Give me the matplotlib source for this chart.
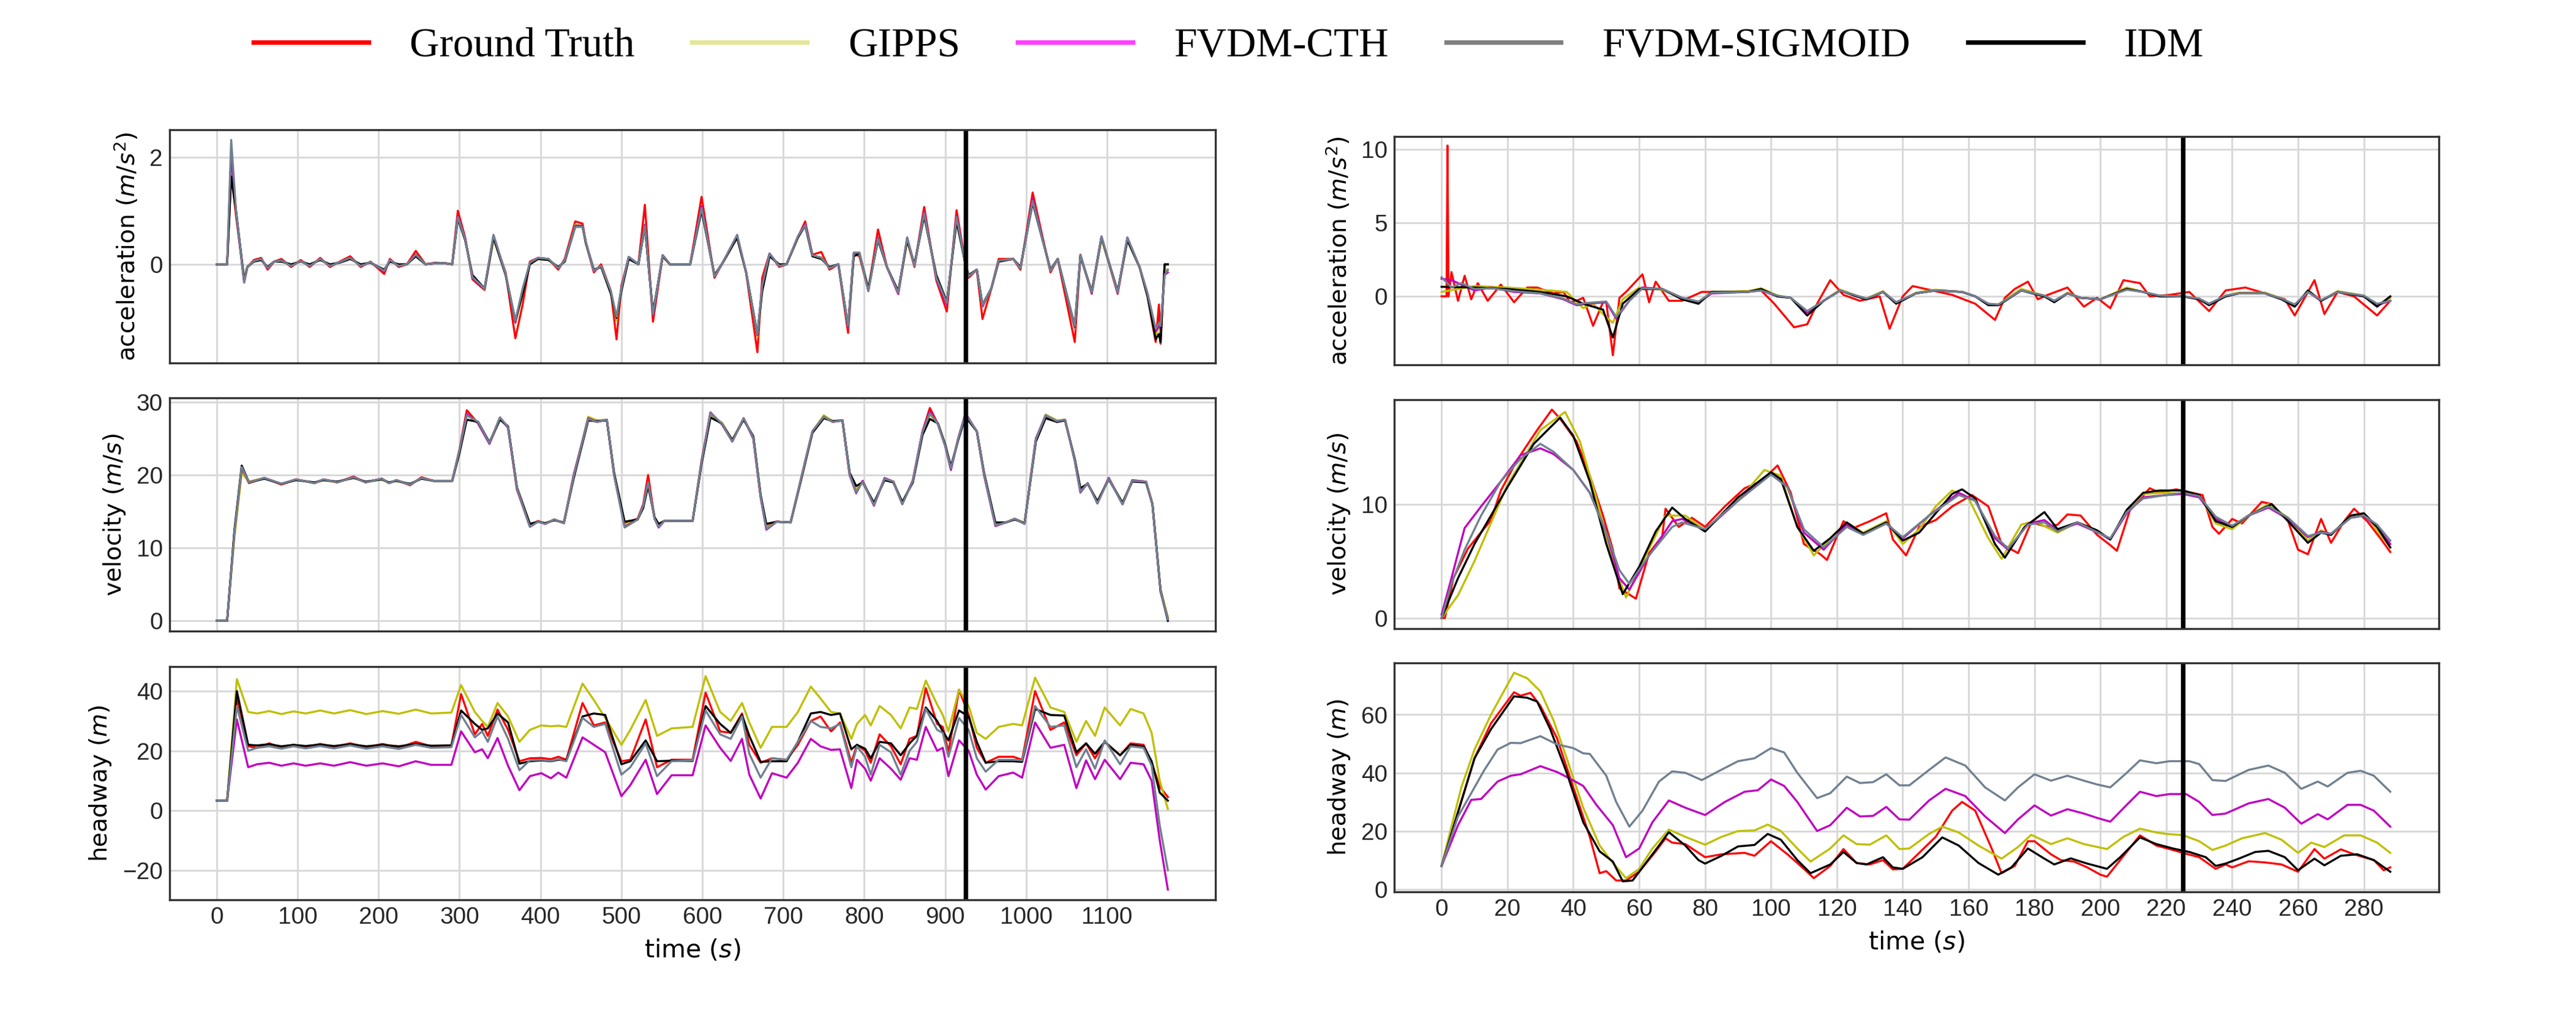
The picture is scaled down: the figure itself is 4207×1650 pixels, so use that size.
import numpy as np
import matplotlib
matplotlib.use('Agg')
import matplotlib.pyplot as plt
from matplotlib.lines import Line2D

plt.rcParams['font.family'] = 'DejaVu Sans'
plt.rcParams['mathtext.fontset'] = 'dejavusans'

labels = ['Ground Truth', 'GIPPS', 'FVDM-CTH', 'FVDM-SIGMOID', 'IDM']

# ---------------- left column (long trajectory) ----------------
t_acc_L = [0, 13, 18, 24, 34, 38, 46, 55, 63, 71,
           80, 92, 104, 115, 128, 140, 152, 165, 178, 190,
           207, 214, 225, 235, 246, 258, 270, 282, 291, 298,
           307, 316, 331, 342, 357, 369, 378, 387, 397, 410,
           422, 430, 443, 452, 456, 466, 475, 487, 494, 500,
           509, 521, 529, 539, 551, 560, 585, 599, 615, 624,
           643, 654, 668, 674, 683, 695, 704, 718, 727, 736,
           747, 757, 768, 780, 787, 794, 805, 817, 828, 842,
           853, 862, 874, 889, 902, 914, 925, 929, 939, 946,
           957, 966, 984, 993, 1008, 1030, 1039, 1060, 1067, 1081,
           1093, 1113, 1125, 1140, 1150, 1160, 1164, 1166, 1171, 1175]
acc_L_gt = [0.0, 0.0, 1.70, 0.90, -0.27, -0.05, 0.08, 0.12, -0.10, 0.05,
            0.10, -0.05, 0.08, -0.05, 0.12, -0.05, 0.05, 0.15, -0.05, 0.05,
            -0.18, 0.10, -0.05, 0.00, 0.25, 0.00, 0.03, 0.02, 0.00, 1.00,
            0.50, -0.28, -0.48, 0.50, -0.15, -1.38, -0.75, 0.05, 0.12, 0.10,
            -0.10, 0.10, 0.80, 0.76, 0.40, -0.15, 0.00, -0.50, -1.40, -0.40,
            0.13, 0.00, 1.11, -1.07, 0.17, 0.00, 0.00, 1.26, -0.25, 0.00,
            0.50, -0.15, -1.64, -0.25, 0.20, -0.05, 0.00, 0.50, 0.80, 0.18,
            0.23, -0.10, 0.00, -1.28, 0.20, 0.15, -0.48, 0.65, -0.05, -0.55,
            0.45, -0.05, 1.07, -0.30, -0.88, 1.01, 0.00, -0.25, -0.10, -1.02,
            -0.45, 0.10, 0.10, -0.10, 1.34, -0.15, 0.10, -1.45, 0.18, -0.55,
            0.50, -0.55, 0.48, -0.05, -0.60, -1.45, -0.75, -1.48, 0.00, 0.00]
acc_L_idm = [0.0, 0.0, 1.64, 1.00, -0.30, -0.05, 0.05, 0.08, -0.05, 0.05,
             0.05, 0.00, 0.05, 0.00, 0.08, 0.00, 0.03, 0.10, 0.00, 0.03,
             -0.10, 0.05, 0.00, 0.00, 0.15, 0.00, 0.02, 0.02, 0.00, 0.85,
             0.45, -0.20, -0.45, 0.50, -0.20, -1.05, -0.55, 0.00, 0.10, 0.08,
             -0.05, 0.05, 0.70, 0.70, 0.40, -0.10, -0.05, -0.55, -1.00, -0.50,
             0.10, 0.00, 0.70, -0.90, 0.15, 0.00, 0.00, 1.00, -0.20, 0.00,
             0.50, -0.15, -1.30, -0.50, 0.15, 0.00, 0.00, 0.50, 0.72, 0.15,
             0.10, -0.05, 0.00, -1.15, 0.15, 0.20, -0.45, 0.45, -0.05, -0.50,
             0.45, 0.00, 0.90, -0.20, -0.70, 0.80, 0.00, -0.20, -0.10, -0.75,
             -0.45, 0.05, 0.10, -0.05, 1.15, -0.10, 0.10, -1.15, 0.15, -0.50,
             0.50, -0.50, 0.45, -0.05, -0.60, -1.40, -1.30, -1.45, 0.00, 0.00]
acc_L_gipps = [0.0, 0.0, 1.83, 0.95, -0.28, -0.04, 0.06, 0.09, -0.06, 0.05,
               0.06, -0.02, 0.06, -0.02, 0.09, -0.02, 0.04, 0.11, -0.02, 0.04,
               -0.12, 0.07, -0.02, 0.00, 0.17, 0.00, 0.02, 0.02, 0.00, 0.88,
               0.46, -0.22, -0.47, 0.48, -0.17, -1.10, -0.55, 0.02, 0.10, 0.08,
               -0.06, 0.06, 0.74, 0.72, 0.40, -0.12, -0.03, -0.52, -1.05, -0.48,
               0.11, 0.00, 0.74, -0.92, 0.15, 0.00, 0.00, 1.05, -0.22, 0.00,
               0.50, -0.15, -1.35, -0.45, 0.17, -0.02, 0.00, 0.50, 0.75, 0.16,
               0.13, -0.07, 0.00, -1.18, 0.17, 0.18, -0.46, 0.50, -0.05, -0.52,
               0.45, -0.02, 0.93, -0.24, -0.74, 0.85, 0.00, -0.22, -0.10, -0.80,
               -0.45, 0.07, 0.10, -0.07, 1.20, -0.12, 0.10, -1.20, 0.16, -0.52,
               0.48, -0.52, 0.46, -0.05, -0.58, -1.35, -1.10, -1.30, -0.10, -0.10]
acc_L_cth = [0.0, 0.0, 2.08, 0.95, -0.34, -0.05, 0.06, 0.10, -0.07, 0.05,
             0.07, -0.03, 0.06, -0.03, 0.10, -0.03, 0.04, 0.12, -0.03, 0.04,
             -0.13, 0.08, -0.03, 0.00, 0.18, 0.00, 0.02, 0.02, 0.00, 0.90,
             0.48, -0.25, -0.46, 0.54, -0.18, -1.08, -0.50, 0.03, 0.12, 0.10,
             -0.07, 0.07, 0.72, 0.72, 0.42, -0.13, -0.03, -0.52, -1.00, -0.45,
             0.14, 0.00, 0.74, -0.95, 0.17, 0.00, 0.00, 1.08, -0.22, 0.00,
             0.54, -0.15, -1.32, -0.40, 0.20, -0.03, 0.00, 0.52, 0.75, 0.17,
             0.12, -0.07, 0.00, -1.18, 0.20, 0.22, -0.50, 0.50, -0.05, -0.55,
             0.50, -0.03, 0.98, -0.27, -0.75, 0.90, 0.00, -0.22, -0.10, -0.78,
             -0.45, 0.07, 0.10, -0.07, 1.22, -0.12, 0.10, -1.18, 0.17, -0.53,
             0.52, -0.53, 0.50, -0.05, -0.55, -1.25, -1.15, -1.20, -0.20, -0.15]
acc_L_sig = [0.0, 0.0, 2.32, 1.00, -0.34, -0.05, 0.06, 0.10, -0.07, 0.05,
             0.07, -0.03, 0.06, -0.03, 0.10, -0.03, 0.04, 0.12, -0.03, 0.04,
             -0.12, 0.08, -0.03, 0.00, 0.18, 0.00, 0.02, 0.02, 0.00, 0.88,
             0.47, -0.24, -0.45, 0.55, -0.18, -1.05, -0.45, 0.03, 0.12, 0.10,
             -0.07, 0.07, 0.70, 0.70, 0.42, -0.12, -0.03, -0.50, -0.98, -0.45,
             0.14, 0.00, 0.72, -0.93, 0.17, 0.00, 0.00, 1.05, -0.22, 0.00,
             0.55, -0.15, -1.30, -0.40, 0.20, -0.03, 0.00, 0.52, 0.73, 0.17,
             0.12, -0.07, 0.00, -1.15, 0.22, 0.22, -0.50, 0.48, -0.05, -0.53,
             0.50, -0.03, 0.95, -0.25, -0.72, 0.88, 0.00, -0.22, -0.10, -0.76,
             -0.45, 0.07, 0.10, -0.07, 1.18, -0.12, 0.10, -1.15, 0.17, -0.52,
             0.52, -0.52, 0.50, -0.05, -0.55, -1.20, -1.10, -1.15, -0.20, -0.10]

t_vel_L = [0, 13, 22, 31, 40, 59, 80, 98, 121, 132,
           149, 169, 184, 204, 213, 222, 239, 253, 268, 291,
           300, 309, 323, 337, 350, 360, 371, 387, 397, 406,
           417, 429, 441, 459, 470, 482, 491, 504, 520, 527,
           533, 541, 546, 553, 588, 599, 610, 624, 637, 651,
           663, 672, 679, 692, 709, 723, 736, 750, 761, 773,
           782, 790, 798, 812, 825, 836, 847, 860, 872, 881,
           891, 900, 907, 916, 925, 939, 948, 962, 975, 986,
           998, 1012, 1024, 1038, 1048, 1060, 1067, 1076, 1088, 1102,
           1119, 1131, 1148, 1156, 1166, 1175]
vel_L_gt = [0.0, 0.0, 12.0, 20.8, 18.9, 19.6, 18.7, 19.4, 18.9, 19.4,
            19.0, 19.8, 19.0, 19.5, 18.9, 19.3, 18.6, 19.7, 19.2, 19.2,
            23.5, 28.9, 27.1, 24.3, 27.9, 26.5, 18.0, 13.0, 13.7, 13.3,
            13.9, 13.4, 20.0, 27.6, 27.3, 27.6, 20.0, 13.4, 14.0, 16.0,
            20.0, 14.0, 13.0, 13.7, 13.7, 22.0, 28.5, 27.0, 24.7, 27.8,
            25.0, 17.0, 12.9, 13.6, 13.5, 20.0, 26.0, 28.0, 27.3, 27.5,
            20.0, 17.8, 19.2, 15.9, 19.5, 19.1, 16.1, 19.2, 26.0, 29.2,
            27.0, 24.0, 20.8, 25.0, 28.3, 26.0, 20.0, 13.3, 13.5, 14.0,
            13.4, 25.0, 28.0, 27.3, 27.6, 22.0, 17.8, 18.9, 16.2, 19.6,
            16.0, 19.2, 19.1, 16.0, 4.0, 0.2]
vel_L_idm = [0.0, 0.0, 12.5, 21.3, 19.0, 19.5, 18.8, 19.3, 19.0, 19.3,
             19.1, 19.6, 19.1, 19.4, 19.0, 19.2, 18.8, 19.5, 19.2, 19.2,
             23.0, 27.6, 27.3, 24.5, 27.6, 26.7, 18.3, 13.3, 13.6, 13.4,
             13.8, 13.5, 19.5, 27.5, 27.4, 27.5, 20.3, 13.6, 13.9, 15.5,
             18.5, 14.2, 13.3, 13.7, 13.7, 21.5, 27.9, 27.1, 24.8, 27.6,
             25.3, 17.3, 13.3, 13.6, 13.5, 19.8, 25.8, 27.8, 27.4, 27.5,
             20.3, 18.5, 19.0, 16.2, 19.3, 19.0, 16.3, 19.0, 25.5, 27.7,
             27.1, 24.2, 21.2, 24.8, 28.0, 26.0, 20.3, 13.5, 13.5, 13.9,
             13.4, 24.6, 27.8, 27.3, 27.5, 22.2, 18.2, 18.8, 16.4, 19.4,
             16.2, 19.1, 19.0, 16.0, 4.2, 0.0]
vel_L_gipps = [0.0, 0.0, 11.5, 20.3, 19.1, 19.6, 18.8, 19.4, 18.9, 19.3,
               19.0, 19.7, 19.0, 19.4, 18.9, 19.2, 18.7, 19.6, 19.2, 19.2,
               23.3, 28.2, 27.3, 24.4, 27.8, 26.6, 18.2, 13.2, 13.6, 13.4,
               13.9, 13.4, 19.8, 28.0, 27.5, 27.6, 20.1, 13.2, 13.9, 15.7,
               18.8, 14.1, 13.2, 13.7, 13.7, 21.8, 28.2, 27.2, 24.8, 27.7,
               25.2, 17.2, 12.8, 13.6, 13.5, 19.9, 26.0, 28.2, 27.4, 27.5,
               20.2, 18.0, 19.0, 16.0, 19.4, 19.0, 16.2, 19.1, 25.8, 28.3,
               27.1, 24.1, 21.0, 24.9, 28.2, 26.0, 20.2, 13.4, 13.5, 14.0,
               13.4, 24.8, 28.3, 27.5, 27.6, 22.1, 18.0, 18.8, 16.3, 19.5,
               16.1, 19.2, 19.1, 16.0, 4.3, 0.5]
vel_L_cth = [0.0, 0.0, 12.2, 21.0, 19.0, 19.6, 18.8, 19.4, 18.9, 19.4,
             19.0, 19.7, 19.0, 19.5, 18.9, 19.3, 18.7, 19.6, 19.2, 19.2,
             23.3, 28.4, 27.1, 24.3, 27.8, 26.5, 18.1, 12.9, 13.6, 13.3,
             13.9, 13.4, 19.9, 27.8, 27.3, 27.6, 20.0, 12.9, 13.9, 15.8,
             19.0, 14.0, 12.8, 13.7, 13.7, 21.8, 28.6, 27.0, 24.6, 27.8,
             25.0, 17.0, 12.5, 13.6, 13.5, 20.0, 26.0, 28.0, 27.3, 27.5,
             20.0, 17.5, 19.2, 15.8, 19.6, 19.1, 16.0, 19.3, 26.0, 28.7,
             27.0, 24.0, 20.7, 25.0, 28.5, 26.0, 20.0, 13.0, 13.5, 14.0,
             13.3, 25.0, 28.2, 27.3, 27.6, 22.0, 17.6, 18.9, 16.1, 19.6,
             16.0, 19.3, 19.1, 16.0, 4.0, 0.3]
vel_L_sig = [0.0, 0.0, 12.2, 21.1, 19.0, 19.6, 18.8, 19.4, 18.9, 19.4,
             19.0, 19.7, 19.0, 19.5, 18.9, 19.3, 18.7, 19.6, 19.2, 19.2,
             23.4, 28.2, 27.3, 24.4, 27.9, 26.6, 18.2, 12.9, 13.6, 13.3,
             13.9, 13.4, 19.8, 27.7, 27.3, 27.6, 20.0, 12.8, 13.9, 15.8,
             19.0, 14.0, 12.9, 13.7, 13.7, 21.8, 28.5, 27.1, 24.6, 27.8,
             25.1, 17.1, 12.6, 13.6, 13.5, 20.0, 26.0, 28.0, 27.3, 27.5,
             20.1, 17.6, 19.1, 15.9, 19.5, 19.1, 16.0, 19.2, 25.9, 28.5,
             27.0, 24.0, 20.9, 25.0, 28.4, 26.0, 20.1, 13.1, 13.5, 14.0,
             13.3, 24.9, 28.2, 27.4, 27.6, 22.0, 17.7, 18.9, 16.1, 19.5,
             16.0, 19.2, 19.1, 16.0, 4.1, 0.2]

t_hw_L = [0, 13, 25, 39, 50, 65, 80, 95, 110, 128,
          145, 165, 185, 205, 225, 246, 265, 290, 302, 319,
          328, 335, 347, 360, 374, 387, 401, 413, 422, 432,
          452, 466, 480, 500, 511, 530, 544, 562, 588, 604,
          622, 635, 649, 658, 672, 686, 704, 718, 734, 746,
          759, 770, 784, 791, 801, 808, 819, 833, 845, 856,
          865, 876, 890, 897, 904, 917, 929, 939, 950, 966,
          984, 995, 1011, 1030, 1047, 1062, 1074, 1085, 1097, 1116,
          1129, 1145, 1155, 1165, 1175]
hw_L_gt = [3.3, 3.3, 37.7, 21.5, 21.0, 22.5, 21.0, 22.0, 21.2, 22.3,
           21.3, 22.5, 21.2, 22.3, 21.0, 23.0, 21.5, 21.8, 39.0, 25.5,
           29.0, 25.0, 33.8, 27.0, 16.5, 17.5, 17.6, 17.2, 18.0, 17.0,
           36.0, 28.5, 29.5, 16.5, 17.0, 30.5, 14.5, 17.0, 17.0, 39.5,
           26.5, 26.0, 32.5, 22.0, 16.0, 17.5, 17.0, 22.0, 30.0, 31.5,
           26.5, 29.5, 16.0, 22.0, 20.0, 16.0, 25.5, 21.5, 15.5, 24.0,
           25.0, 41.0, 29.0, 28.0, 19.5, 40.5, 32.0, 21.0, 16.0, 18.0,
           18.0, 17.0, 40.0, 27.0, 29.5, 18.5, 22.5, 17.5, 23.0, 18.5,
           22.5, 22.0, 16.0, 8.0, 4.5]
hw_L_idm = [3.3, 3.3, 40.0, 22.0, 21.8, 22.2, 21.5, 22.0, 21.6, 22.1,
            21.6, 22.2, 21.5, 22.0, 21.5, 22.3, 21.7, 21.8, 33.5, 29.0,
            27.0, 27.5, 32.5, 29.5, 15.7, 16.5, 16.8, 16.5, 17.0, 16.8,
            31.5, 32.5, 32.0, 15.5, 16.5, 23.5, 16.5, 16.7, 16.6, 35.0,
            29.0, 26.0, 32.0, 25.0, 16.3, 16.5, 16.5, 23.0, 32.5, 33.0,
            32.0, 32.5, 20.5, 22.0, 20.7, 17.5, 23.0, 22.5, 18.5, 22.5,
            25.0, 34.5, 30.0, 26.5, 23.5, 33.5, 31.5, 23.0, 16.0, 16.5,
            16.5, 16.3, 34.0, 32.0, 31.8, 19.5, 22.5, 19.0, 23.0, 18.5,
            22.0, 21.5, 16.5, 6.0, 3.3]
hw_L_gipps = [3.3, 3.3, 44.0, 33.0, 32.5, 33.3, 32.3, 33.2, 32.5, 33.5,
              32.5, 33.6, 32.3, 33.3, 32.4, 33.8, 32.5, 32.8, 42.0, 33.0,
              30.0, 28.0, 36.0, 31.5, 23.0, 27.0, 28.5, 28.2, 28.4, 28.0,
              42.5, 37.0, 31.0, 22.0, 27.0, 37.0, 25.0, 27.5, 28.0, 45.0,
              33.0, 30.0, 36.0, 29.5, 21.0, 28.0, 28.0, 33.0, 41.5, 37.5,
              33.0, 32.5, 24.0, 29.0, 32.0, 28.5, 35.0, 32.0, 27.5, 34.5,
              34.0, 43.5, 35.5, 32.0, 26.5, 40.5, 35.0, 26.0, 24.0, 28.0,
              29.0, 28.5, 44.5, 34.5, 33.0, 23.0, 30.0, 25.0, 34.5, 28.5,
              34.0, 32.5, 26.0, 10.0, 0.5]
hw_L_cth = [3.3, 3.3, 30.5, 14.5, 15.5, 16.0, 15.0, 15.8, 15.0, 15.8,
            15.0, 16.2, 15.0, 15.8, 14.8, 16.5, 15.3, 15.3, 26.5, 19.5,
            20.5, 17.5, 24.3, 15.0, 6.8, 11.5, 12.5, 10.8, 12.7, 11.0,
            24.5, 22.0, 19.5, 4.8, 8.5, 17.0, 5.5, 11.8, 11.8, 28.5,
            21.0, 16.6, 24.0, 12.0, 4.0, 12.5, 11.0, 16.0, 24.0, 21.5,
            20.3, 20.5, 7.5, 17.0, 14.0, 10.0, 17.5, 14.0, 10.3, 17.5,
            17.0, 28.0, 20.0, 21.0, 11.5, 23.5, 20.0, 12.0, 7.0, 11.5,
            12.7, 11.0, 29.5, 21.0, 22.0, 7.5, 16.8, 10.5, 17.0, 10.5,
            16.0, 15.5, 10.0, -10.0, -26.5]
hw_L_sig = [3.3, 3.3, 35.0, 20.0, 21.0, 21.5, 20.7, 21.5, 20.8, 21.6,
            20.8, 21.8, 20.7, 21.5, 20.6, 22.0, 21.0, 21.2, 32.0, 24.5,
            26.5, 23.0, 31.5, 24.0, 13.5, 16.8, 17.0, 16.6, 17.2, 16.5,
            31.0, 28.0, 29.0, 12.0, 14.5, 22.5, 11.5, 16.5, 16.8, 33.5,
            25.5, 24.0, 31.5, 19.0, 11.0, 17.5, 17.0, 23.0, 30.0, 28.0,
            27.5, 29.0, 14.5, 21.5, 18.0, 12.0, 22.0, 19.5, 12.0, 20.0,
            23.0, 34.0, 27.0, 26.0, 18.0, 31.0, 27.0, 17.5, 13.0, 17.0,
            17.0, 16.8, 35.0, 28.0, 28.5, 14.5, 20.5, 14.0, 23.5, 15.5,
            21.5, 21.0, 15.0, -5.0, -20.0]

# ---------------- right column (short trajectory) ----------------
t_acc_R_gt = [0, 1.5, 1.8, 2.1, 3, 5, 7, 9, 11, 14,
              18, 22, 26, 29, 34, 37, 39, 41, 43, 46,
              49, 50, 52, 54, 56, 61, 63, 65, 69, 73,
              79, 88, 97, 101, 107, 111, 114, 118, 122, 127,
              133, 136, 140, 143, 149, 155, 162, 168, 171, 174,
              178, 181, 184, 190, 195, 199, 203, 207, 212, 215,
              221, 227, 233, 238, 244, 250, 256, 259, 265, 268,
              272, 277, 284, 288]
acc_R_gt = [0, 0, 10.25, 0, 1.65, -0.3, 1.4, -0.2, 0.9, -0.3,
            0.8, -0.4, 0.6, 0.6, 0.2, 0.3, -0.4, -0.3, -0.1, -2.0,
            -0.4, -0.4, -4.0, -0.1, 0.3, 1.5, -0.4, 1.0, -0.3, -0.3,
            0.3, 0.3, 0.4, -0.5, -2.1, -1.9, -0.5, 1.1, 0.1, -0.3,
            0.0, -2.2, 0.0, 0.7, 0.4, 0.1, -0.5, -1.6, -0.1, 0.5,
            1.0, -0.2, 0.1, 0.6, -0.7, -0.1, -0.8, 1.1, 0.9, 0.0,
            0.1, 0.3, -1.0, 0.4, 0.6, 0.2, -0.2, -1.3, 1.1, -1.2,
            0.3, 0.0, -1.3, -0.3]
t_acc_R_a = [0, 10, 20, 30, 38, 43, 46, 49, 52, 55,
             60, 67, 73, 78, 82, 93, 97, 102, 106, 111,
             116, 121, 126, 129, 134, 138, 144, 150, 158, 162,
             166, 169, 176, 183, 186, 190, 194, 200, 208, 213,
             218, 225, 230, 233, 238, 242, 250, 255, 259, 263,
             267, 272, 280, 284, 288]
acc_R_idm = [0.65, 0.6, 0.5, 0.3, 0.0, -0.5, -0.7, -0.9, -2.8, -0.5,
             0.5, 0.5, -0.2, -0.5, 0.3, 0.3, 0.5, 0.0, -0.1, -1.3,
             -0.3, 0.4, 0.0, -0.2, 0.3, -0.5, 0.2, 0.4, 0.3, 0.0,
             -0.6, -0.6, 0.4, 0.0, -0.4, 0.2, -0.1, -0.2, 0.5, 0.3,
             0.0, 0.0, -0.2, -0.6, 0.0, 0.2, 0.2, -0.2, -0.7, 0.4,
             -0.3, 0.3, 0.0, -0.7, 0.0]
acc_R_gipps = [0.3, 0.7, 0.6, 0.45, 0.3, -0.8, -0.5, -1.2, -1.8, -0.2,
               0.6, 0.45, -0.15, -0.4, 0.3, 0.35, 0.55, 0.05, -0.1, -1.1,
               -0.3, 0.45, 0.05, -0.15, 0.35, -0.45, 0.25, 0.45, 0.3, 0.0,
               -0.55, -0.55, 0.5, 0.05, -0.35, 0.25, -0.1, -0.2, 0.6, 0.3,
               0.05, 0.0, -0.15, -0.55, 0.05, 0.25, 0.25, -0.15, -0.65, 0.4,
               -0.3, 0.35, 0.05, -0.6, -0.1]
t_acc_R_b = [0, 3, 6, 10, 15, 22, 30, 37, 41, 44,
             50, 53, 57, 61, 67, 73, 78, 82, 93, 97,
             102, 106, 111, 116, 121, 126, 129, 134, 138, 144,
             150, 158, 162, 166, 169, 176, 183, 186, 190, 194,
             200, 208, 213, 218, 225, 230, 233, 238, 242, 250,
             255, 259, 263, 267, 272, 280, 284, 288]
acc_R_cth = [1.2, 1.1, 0.8, 0.4, 0.6, 0.3, 0.2, -0.2, -0.6, -0.5,
             -0.4, -1.5, -0.3, 0.6, 0.5, -0.1, -0.4, 0.2, 0.3, 0.4,
             0.0, -0.1, -1.1, -0.3, 0.4, 0.0, -0.2, 0.3, -0.4, 0.2,
             0.4, 0.3, 0.0, -0.5, -0.6, 0.4, 0.0, -0.3, 0.2, -0.1,
             -0.2, 0.5, 0.3, 0.0, 0.0, -0.2, -0.5, 0.0, 0.2, 0.2,
             -0.2, -0.6, 0.3, -0.3, 0.3, 0.0, -0.6, -0.3]
acc_R_sig = [1.3, 0.6, 0.9, 0.5, 0.55, 0.35, 0.2, -0.15, -0.55, -0.45,
             -0.35, -1.4, -0.3, 0.55, 0.5, -0.1, -0.35, 0.25, 0.3, 0.4,
             0.05, -0.1, -1.0, -0.3, 0.4, 0.05, -0.15, 0.3, -0.4, 0.2,
             0.4, 0.3, 0.0, -0.5, -0.55, 0.4, 0.05, -0.3, 0.2, -0.1,
             -0.2, 0.45, 0.3, 0.05, 0.0, -0.15, -0.5, 0.05, 0.2, 0.2,
             -0.15, -0.55, 0.3, -0.25, 0.3, 0.05, -0.5, -0.3]

t_vel_R_gt = [0, 1, 3.6, 8, 15, 18, 23, 29, 33.5, 36,
              41, 45, 49, 52, 54, 59, 63, 67, 68, 72,
              76, 80, 86, 92, 97, 102, 106, 110, 115, 117,
              122, 125, 130, 135, 137, 141, 145, 150, 155, 161,
              166, 170, 175, 179, 184, 187, 190, 194, 199, 203,
              205, 209, 215, 218, 223, 231, 234, 236, 240, 243,
              249, 252, 257, 260, 263, 267, 270, 274, 277, 281,
              285, 288]
vel_R_gt = [0, 0, 3.5, 6.1, 8.6, 11.2, 13.9, 16.5, 18.3, 17.5,
            15.5, 12.5, 9.0, 6.0, 2.6, 1.7, 5.7, 7.2, 9.6, 8.0,
            8.8, 8.0, 9.8, 11.4, 12.0, 13.4, 11.0, 6.5, 5.6, 5.1,
            8.5, 7.9, 8.5, 9.2, 6.9, 5.5, 8.0, 8.6, 9.8, 10.8,
            9.8, 6.5, 5.7, 8.4, 8.0, 8.2, 9.1, 9.0, 7.3, 6.4,
            5.9, 9.5, 11.4, 11.0, 11.3, 10.8, 8.0, 7.4, 8.7, 8.3,
            10.2, 10.0, 8.5, 6.0, 5.6, 8.7, 6.6, 8.5, 9.6, 8.5,
            7.0, 5.8]
t_vel_R_idm = [0, 5, 10, 20, 28, 36, 40, 45, 50, 55,
               60, 65, 70, 74, 80, 90, 100, 103, 108, 113,
               118, 123, 128, 135, 140, 145, 155, 158, 162, 168,
               171, 177, 183, 187, 193, 199, 203, 208, 213, 218,
               225, 230, 235, 240, 245, 252, 257, 263, 267, 270,
               276, 280, 284, 288]
vel_R_idm = [0, 3.5, 6.5, 11.5, 15.3, 17.6, 16.0, 12.0, 6.5, 2.1,
             4.5, 7.6, 9.7, 8.7, 7.6, 10.6, 12.8, 12.2, 8.0, 5.9,
             7.0, 8.4, 7.4, 8.4, 6.8, 7.5, 10.9, 11.3, 10.5, 6.5,
             5.3, 8.0, 9.3, 7.8, 8.4, 7.7, 6.9, 9.5, 11.0, 11.2,
             11.2, 10.8, 8.5, 8.0, 9.0, 10.0, 8.5, 6.6, 7.5, 7.3,
             9.0, 9.2, 8.0, 6.2]
t_vel_R_gipps = [0, 5, 10, 20, 30, 37.5, 42, 47, 52, 56,
                 62, 68, 74, 80, 90, 98, 103, 108, 113, 120,
                 124, 128, 135, 140, 145, 150, 155, 160, 166, 170,
                 176, 180, 187, 193, 198, 203, 208, 213, 220, 230,
                 235, 240, 245, 251, 257, 263, 267, 270, 276, 280,
                 288]
vel_R_gipps = [0, 2.0, 5.0, 11.7, 16.5, 18.1, 15.5, 10.5, 5.0, 1.8,
               5.5, 9.0, 9.0, 7.7, 10.3, 13.0, 12.5, 8.0, 5.5, 7.6,
               8.2, 7.5, 8.5, 6.5, 7.8, 9.8, 11.2, 10.5, 7.0, 5.2,
               8.2, 8.5, 7.5, 8.4, 7.8, 6.9, 9.3, 10.9, 11.0, 10.8,
               8.3, 7.8, 9.0, 10.0, 8.8, 6.8, 7.7, 7.3, 9.0, 9.2,
               6.2]
t_vel_R_fv = [0, 3, 7, 12, 18, 24, 30, 34, 40, 45,
              50, 54, 57, 63, 70, 73, 80, 90, 100, 105,
              110, 116, 123, 128, 135, 140, 148, 157, 162, 168,
              172, 178, 183, 187, 193, 200, 203, 208, 213, 220,
              225, 230, 235, 240, 245, 251, 257, 263, 267, 270,
              276, 280, 284, 288]
vel_R_cth = [0.3, 3.5, 7.9, 9.8, 12.0, 14.3, 14.9, 14.4, 13.0, 11.0,
             7.5, 3.5, 2.5, 5.5, 8.5, 8.7, 7.7, 10.3, 12.8, 11.5,
             7.5, 6.0, 8.2, 7.4, 8.3, 7.0, 9.0, 11.0, 10.3, 7.0,
             6.0, 8.3, 8.6, 7.7, 8.3, 7.4, 6.9, 9.2, 10.6, 10.8,
             10.9, 10.6, 8.7, 8.0, 9.0, 9.7, 8.7, 7.1, 7.6, 7.4,
             8.8, 9.0, 8.0, 6.5]
vel_R_sig = [0, 3.0, 6.0, 9.0, 12.0, 14.0, 15.3, 14.6, 13.0, 11.0,
             7.5, 4.2, 3.0, 5.5, 8.0, 8.4, 7.8, 10.3, 12.6, 11.5,
             7.8, 6.2, 8.0, 7.3, 8.3, 7.1, 9.0, 10.8, 10.3, 7.2,
             6.1, 8.2, 8.4, 7.6, 8.4, 7.4, 7.0, 9.3, 10.5, 10.8,
             11.0, 10.7, 8.9, 8.1, 9.0, 9.8, 8.8, 7.2, 7.5, 7.4,
             8.8, 9.0, 8.2, 6.8]

t_hw_R_gt = [0, 10, 15, 22, 24, 27, 30, 35, 40, 45,
             48, 50, 53, 56, 60, 65, 68, 70, 74, 80,
             85, 92, 95, 100, 105, 110, 113, 118, 122, 126,
             130, 134, 137, 140, 150, 155, 158, 162, 167, 170,
             174, 178, 180, 185, 188, 192, 196, 200, 202, 206,
             212, 217, 222, 225, 230, 235, 238, 240, 245, 250,
             255, 260, 265, 268, 273, 277, 283, 286, 288]
hw_R_gt = [8, 45, 57, 67.7, 66.5, 67.5, 63, 52, 35, 18,
           5.5, 6.2, 3.0, 3.0, 6, 13, 17.5, 16, 15.5, 11,
           12, 12.5, 11.5, 16.5, 12, 7, 3.8, 8, 13.8, 9,
           8.5, 10, 6.8, 7, 18, 27, 30, 27, 14, 5.5,
           8, 16.5, 16.5, 12, 10, 9.5, 7.5, 5, 4.3, 10,
           18.5, 15, 13.5, 12.5, 11, 7, 8.5, 7.5, 9.6, 9.2,
           8.5, 6.0, 13.8, 10.5, 13.7, 12, 10, 6.5, 7.5]
t_hw_R_idm = [0, 10, 15, 22, 26, 29, 33, 38, 43, 48,
              52, 55, 58, 62, 66, 69, 74, 78, 80, 85,
              90, 95, 99, 103, 108, 112, 118, 122, 126, 129,
              134, 137, 140, 146, 152, 157, 163, 169, 173, 178,
              183, 186, 191, 196, 202, 206, 212, 217, 222, 227,
              232, 235, 238, 242, 247, 251, 256, 260, 265, 268,
              273, 278, 283, 288]
hw_R_idm = [8, 45, 55, 66.3, 65.8, 64.5, 55, 40, 23, 13,
            9.5, 2.7, 3.0, 9, 15, 19.6, 15, 10, 8.8, 11.5,
            14.7, 15.2, 19.0, 17.0, 10, 5.5, 8.5, 12.8, 9.0, 8.5,
            11.0, 7.5, 7.0, 11, 17.8, 15, 9, 5.0, 7.5, 14.0,
            10.5, 8.5, 10.6, 8.8, 7.0, 11, 17.8, 15.5, 14.0, 12.8,
            11, 8, 8.8, 10.5, 12.8, 13.2, 11, 6.5, 10.5, 8.2,
            11.5, 12.0, 10, 6.0]
t_hw_R_gipps = [0, 6, 10, 15, 22, 26, 30, 34, 38, 43,
                48, 52, 56, 60, 64, 69, 74, 80, 85, 90,
                95, 99, 103, 108, 112, 118, 122, 126, 130, 135,
                139, 142, 148, 152, 157, 163, 170, 175, 179, 185,
                190, 195, 202, 207, 212, 217, 220, 225, 230, 234,
                238, 243, 250, 255, 260, 264, 268, 274, 279, 284,
                288]
hw_R_gipps = [8, 35, 48, 60, 74.4, 72.5, 68, 58, 45, 28,
              15, 9, 3.8, 7, 14, 20.5, 18, 15.3, 18, 20,
              20.2, 22.2, 20, 14, 9.5, 14, 18.5, 15.5, 15.3, 18.5,
              13.8, 14.0, 19.0, 21.5, 19.5, 15, 10.5, 14.5, 18.7, 15.5,
              17.5, 15.5, 13.8, 18, 20.8, 19.5, 19, 18.6, 16.5, 13.5,
              15, 17.5, 19.3, 17, 12.5, 16.0, 14.5, 18.5, 18.5, 16,
              12.5]
t_hw_R_cth = [0, 5, 9, 12, 17, 21, 24, 30, 35, 39,
              43, 47, 52, 56, 60, 64, 69, 74, 80, 86,
              92, 96, 100, 104, 108, 114, 118, 123, 127, 131,
              135, 139, 142, 148, 153, 159, 165, 171, 175, 180,
              185, 190, 195, 199, 203, 208, 212, 217, 221, 226,
              230, 234, 238, 245, 251, 256, 261, 266, 269, 275,
              279, 283, 288]
hw_R_cth = [8, 22, 30.7, 31, 37, 39, 39.5, 42.3, 40.3, 38,
            35.5, 29, 22, 11, 14, 23, 30.5, 28, 25.5, 30,
            33.5, 34, 37.7, 35.5, 30, 20.0, 22, 28, 25, 25.2,
            28.3, 24, 23.9, 30.5, 34.5, 32, 25, 19.3, 24, 28.8,
            25.3, 27.5, 26, 24.5, 23.2, 29, 33.5, 32, 32.7, 32.7,
            30, 25.5, 26, 29.5, 31.0, 28, 22.5, 25.8, 24, 29,
            29, 27, 21.5]
t_hw_R_sig = [0, 5, 9, 13, 17, 21, 24, 30, 35, 40,
              43, 45, 50, 53, 57, 61, 66, 70, 74, 79,
              84, 90, 95, 100, 104, 108, 114, 118, 123, 127,
              131, 135, 139, 142, 148, 153, 159, 165, 171, 175,
              180, 185, 190, 195, 199, 203, 208, 212, 217, 221,
              227, 230, 234, 238, 245, 251, 256, 261, 266, 269,
              275, 279, 283, 288]
hw_R_sig = [8, 25, 33, 41, 48, 50.3, 50.2, 52.6, 49.8, 48.5,
            46.7, 46.5, 39, 30, 21.5, 27, 37, 40.5, 40, 37.5,
            40.5, 44, 45, 48.5, 47, 40, 31.3, 33, 38.7, 36.5,
            36.8, 39.5, 35.7, 35.7, 41, 45.3, 42.5, 35, 30.5, 35,
            39.5, 37.3, 39.0, 37.3, 36, 35.0, 40, 44.3, 43.3, 44,
            44, 43, 37.5, 37.2, 41, 42.5, 40, 34.5, 37, 35.3,
            40, 40.7, 39, 33.5]

split_L = 925
split_R = 225

colors = {'gt': 'red', 'gipps': '#bfbf00', 'cth': '#bf00bf', 'idm': 'black', 'sig': '#708090'}

W, H = 15.68, 6.15
fig = plt.figure(figsize=(W, H))

def style(ax, xt, yt, xlim, ylim, ylabel, bottom):
    ax.set_xlim(xlim)
    ax.set_ylim(ylim)
    ax.set_xticks(xt)
    ax.set_yticks(yt)
    ax.grid(True, color='#d9d9d9', lw=0.8)
    ax.set_axisbelow(True)
    ax.tick_params(length=0, labelsize=10.4, pad=3, colors='#262626')
    for lab in ax.get_xticklabels() + ax.get_yticklabels():
        lab.set_fontfamily('Liberation Sans')
    for s in ax.spines.values():
        s.set_color('#333333')
        s.set_linewidth(0.9)
    ax.set_ylabel(ylabel, fontsize=10.5)
    if bottom:
        ax.set_xlabel(r'time $(s)$', fontsize=11)
    else:
        ax.tick_params(labelbottom=False)

def draw(ax, series, split):
    # plot order: GT, GIPPS, CTH, IDM, SIGMOID
    for key, t, y in series:
        ax.plot(t, y, color=colors[key], lw=0.9)
    ax.axvline(split, color='black', lw=2.0)

xt_L = np.arange(0, 1101, 100)
xt_R = np.arange(0, 281, 20)
xlim_L = (-58.2, 1234)
xlim_R = (-14.4, 302.7)

axL1 = fig.add_axes([0.0658, 0.6406, 0.4061, 0.2309])
axL2 = fig.add_axes([0.0658, 0.3752, 0.4061, 0.2309])
axL3 = fig.add_axes([0.0658, 0.1091, 0.4061, 0.2309])
axR1 = fig.add_axes([0.5412, 0.6388, 0.4055, 0.2261])
axR2 = fig.add_axes([0.5412, 0.3776, 0.4055, 0.2267])
axR3 = fig.add_axes([0.5412, 0.1170, 0.4055, 0.2267])

draw(axL1, [('gt', t_acc_L, acc_L_gt), ('gipps', t_acc_L, acc_L_gipps),
            ('cth', t_acc_L, acc_L_cth), ('idm', t_acc_L, acc_L_idm),
            ('sig', t_acc_L, acc_L_sig)], split_L)
draw(axL2, [('gt', t_vel_L, vel_L_gt), ('gipps', t_vel_L, vel_L_gipps),
            ('cth', t_vel_L, vel_L_cth), ('idm', t_vel_L, vel_L_idm),
            ('sig', t_vel_L, vel_L_sig)], split_L)
draw(axL3, [('gt', t_hw_L, hw_L_gt), ('gipps', t_hw_L, hw_L_gipps),
            ('cth', t_hw_L, hw_L_cth), ('idm', t_hw_L, hw_L_idm),
            ('sig', t_hw_L, hw_L_sig)], split_L)
draw(axR1, [('gt', t_acc_R_gt, acc_R_gt), ('gipps', t_acc_R_a, acc_R_gipps),
            ('cth', t_acc_R_b, acc_R_cth), ('idm', t_acc_R_a, acc_R_idm),
            ('sig', t_acc_R_b, acc_R_sig)], split_R)
draw(axR2, [('gt', t_vel_R_gt, vel_R_gt), ('gipps', t_vel_R_gipps, vel_R_gipps),
            ('cth', t_vel_R_fv, vel_R_cth), ('idm', t_vel_R_idm, vel_R_idm),
            ('sig', t_vel_R_fv, vel_R_sig)], split_R)
draw(axR3, [('gt', t_hw_R_gt, hw_R_gt), ('gipps', t_hw_R_gipps, hw_R_gipps),
            ('cth', t_hw_R_cth, hw_R_cth), ('idm', t_hw_R_idm, hw_R_idm),
            ('sig', t_hw_R_sig, hw_R_sig)], split_R)

style(axL1, xt_L, [0, 2], xlim_L, (-1.84, 2.51), r'acceleration $(m/s^2)$', False)
style(axL2, xt_L, [0, 10, 20, 30], xlim_L, (-1.4, 30.6), r'velocity $(m/s)$', False)
style(axL3, xt_L, [-20, 0, 20, 40], xlim_L, (-29.9, 48.2), r'headway $(m)$', True)
style(axR1, xt_R, [0, 5, 10], xlim_R, (-4.65, 10.87), r'acceleration $(m/s^2)$', False)
style(axR2, xt_R, [0, 10], xlim_R, (-0.93, 19.18), r'velocity $(m/s)$', False)
style(axR3, xt_R, [0, 20, 40, 60], xlim_R, (-0.9, 77.8), r'headway $(m)$', True)

leg_colors = ['red', '#e5e599', '#ff40ff', '#808080', 'black']
handles = [Line2D([], [], color=c, lw=2) for c in leg_colors]
fig.legend(handles, labels, loc='center', bbox_to_anchor=(0.477, 0.954), ncol=5,
           frameon=False, prop={'family': 'Liberation Serif', 'size': 18},
           handlelength=2.8, handletextpad=1.0, columnspacing=1.4)

fig.savefig('out.png', dpi=4207 / W)
